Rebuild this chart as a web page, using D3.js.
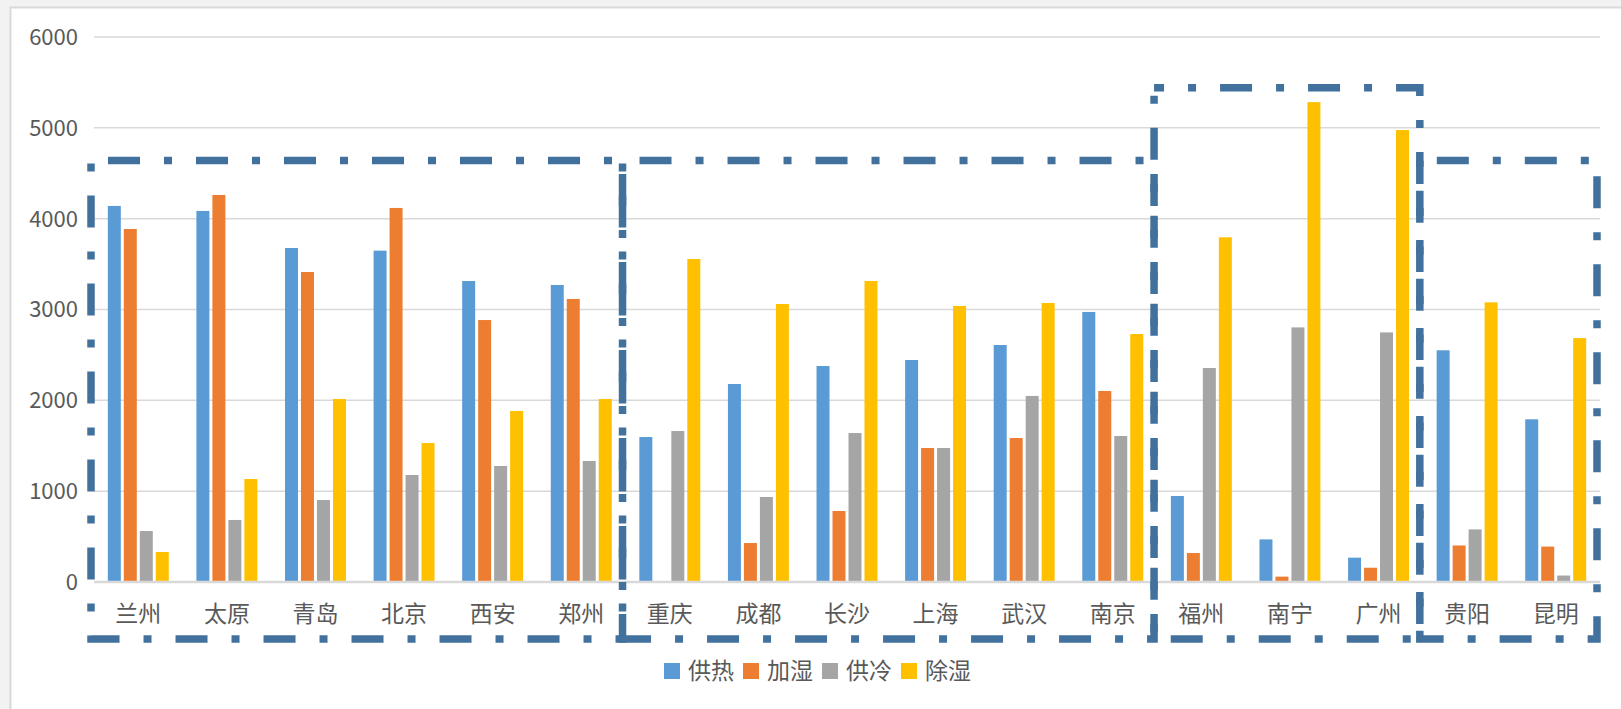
<!DOCTYPE html>
<html>
<head>
<meta charset="utf-8">
<script src="https://cdn.jsdelivr.net/npm/d3@7/dist/d3.min.js"></script>
<style>
  html, body { margin: 0; padding: 0; background: #f2f2f2; }
  svg { display: block; }
  text { font-family: "Noto Sans CJK SC", "Noto Sans", sans-serif; fill: #595959; }
</style>
</head>
<body>
<svg id="chart" width="1621" height="709"></svg>
<script>
// ---- data ----
const categories = ["兰州","太原","青岛","北京","西安","郑州","重庆","成都","长沙","上海","武汉","南京","福州","南宁","广州","贵阳","昆明"];
const seriesNames = ["供热","加湿","供冷","除湿"];
const heating   = [4140,4085,3677,3648,3314,3270,1596,2180,2378,2444,2609,2973, 947, 469, 268,2551,1791];
const humidify  = [3886,4261,3413,4118,2884,3116,   0, 429, 782,1475,1585,2103, 319,  59, 157, 402, 390];
const cooling   = [ 561, 683, 903,1178,1277,1332,1662, 936,1640,1475,2048,1607,2356,2803,2748, 579,  71];
const dehumid   = [ 330,1134,2015,1530,1883,2015,3556,3061,3314,3039,3072,2730,3795,5283,4976,3079,2685];
const yTicks = [0,1000,2000,3000,4000,5000,6000];
// climate-zone grouping boxes: category index ranges and top value
const groupFrom = [0, 6, 12, 15];
const groupTo   = [6, 12, 15, 17];
const groupTop  = [4640, 4640, 5440, 4640];

const colors = ["#5B9BD5","#ED7D31","#A5A5A5","#FFC000"];
const seriesValues = [heating, humidify, cooling, dehumid];

// ---- layout ----
const svg = d3.select("#chart");
const W = 1621, H = 709;
const plot = { left: 94, right: 1600, top: 37, bottom: 582 };

// frame
svg.append("rect").attr("x", 10.5).attr("y", 7.5).attr("width", W + 20).attr("height", H + 20)
  .attr("fill", "#ffffff").attr("stroke", "#d9d9d9").attr("stroke-width", 2);

const x0 = d3.scaleBand().domain(categories).range([plot.left, plot.right])
  .paddingInner(0.312).paddingOuter(0.156);
const x1 = d3.scaleBand().domain(seriesNames).range([0, x0.bandwidth()])
  .paddingInner(0.1875).paddingOuter(0);
const y = d3.scaleLinear().domain([0, 6000]).range([plot.bottom, plot.top]);

// gridlines
svg.append("g").selectAll("line").data(yTicks.filter(t => t > 0)).join("line")
  .attr("x1", plot.left).attr("x2", plot.right)
  .attr("y1", d => y(d)).attr("y2", d => y(d))
  .attr("stroke", "#d9d9d9").attr("stroke-width", 1.5);

// y tick labels
svg.append("g").selectAll("text").data(yTicks).join("text")
  .attr("x", 78).attr("y", d => y(d)).attr("dy", "0.36em")
  .attr("text-anchor", "end").attr("font-size", 22).text(d => d);

// bars
const rows = categories.map((c, i) => ({ c, vals: seriesNames.map((s, j) => ({ s, j, v: seriesValues[j][i] })) }));
const g = svg.append("g").selectAll("g").data(rows).join("g")
  .attr("transform", d => `translate(${x0(d.c)},0)`);
g.selectAll("rect").data(d => d.vals).join("rect")
  .attr("x", d => x1(d.s)).attr("width", x1.bandwidth())
  .attr("y", d => y(d.v)).attr("height", d => y(0) - y(d.v))
  .attr("fill", d => colors[d.j]);

// x axis line
svg.append("line").attr("x1", plot.left).attr("x2", plot.right)
  .attr("y1", y(0)).attr("y2", y(0)).attr("stroke", "#d9d9d9").attr("stroke-width", 2.5);

// category labels
svg.append("g").selectAll("text").data(categories).join("text")
  .attr("x", d => x0(d) + x0.bandwidth() / 2).attr("y", 614).attr("dy", "0.35em")
  .attr("text-anchor", "middle").attr("font-size", 23).text(d => d);

// grouping boxes (dash-dot)
const step = x0.step();
const boxes = groupFrom.map((f, i) => ({
  x1: plot.left + f * step - 3,
  x2: plot.left + groupTo[i] * step - 3,
  top: y(groupTop[i]),
  bottom: y(0) + 57,
  off: i === 2 ? 22 : 71
}));
svg.append("g").selectAll("path").data(boxes).join("path")
  .attr("d", b => `M${b.x1},${b.top}H${b.x2}V${b.bottom}H${b.x1}Z`)
  .attr("fill", "none").attr("stroke", "#41719C").attr("stroke-width", 7.5)
  .attr("stroke-dasharray", "32 24 8 24").attr("stroke-dashoffset", b => b.off);

// legend
const legendX = 664, legendStep = 79, legendY = 671;
const lg = svg.append("g").selectAll("g").data(seriesNames).join("g")
  .attr("transform", (d, i) => `translate(${legendX + i * legendStep},${legendY})`);
lg.append("rect").attr("x", 0).attr("y", -8).attr("width", 16).attr("height", 16)
  .attr("fill", (d, i) => colors[i]);
lg.append("text").attr("x", 24).attr("y", 0).attr("dy", "0.35em")
  .attr("font-size", 23).text(d => d);
</script>
</body>
</html>
